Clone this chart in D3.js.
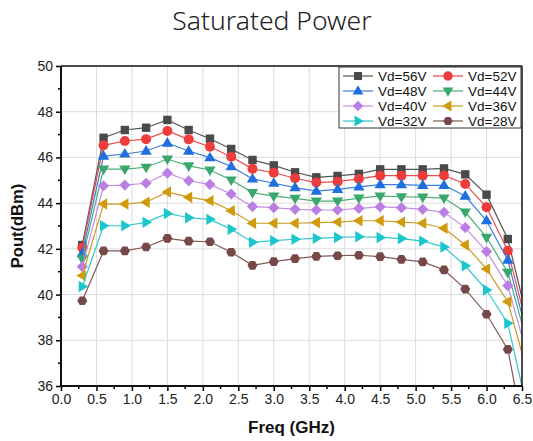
<!DOCTYPE html>
<html><head><meta charset="utf-8">
<script src="https://cdn.jsdelivr.net/npm/d3@7"></script>
<style>html,body{margin:0;padding:0;background:#fff;}svg{display:block;}</style>
</head><body>
<script>
const freqs = [0.3,0.6,0.9,1.2,1.5,1.8,2.1,2.4,2.7,3.0,3.3,3.6,3.9,4.2,4.5,4.8,5.1,5.4,5.7,6.0,6.3,6.6];
const seriesNames = ["Vd=56V","Vd=52V","Vd=48V","Vd=44V","Vd=40V","Vd=36V","Vd=32V","Vd=28V"];
const vd56 = [42.17,46.86,47.2,47.3,47.64,47.2,46.82,46.37,45.89,45.65,45.35,45.13,45.19,45.28,45.48,45.48,45.48,45.52,45.26,44.37,42.43,38.6];
const vd52 = [42.05,46.53,46.72,46.8,47.16,46.79,46.47,46.03,45.5,45.33,45.09,44.9,44.94,45.06,45.2,45.2,45.2,45.21,44.84,43.82,41.92,38.25];
const vd48 = [41.8,46.06,46.15,46.28,46.63,46.28,45.99,45.6,45.06,44.87,44.68,44.53,44.6,44.71,44.81,44.81,44.78,44.78,44.31,43.23,41.51,37.9];
const vd44 = [41.56,45.49,45.49,45.57,45.93,45.63,45.45,45.01,44.46,44.31,44.21,44.09,44.09,44.22,44.31,44.28,44.26,44.22,43.61,42.5,40.97,37.6];
const vd40 = [41.22,44.76,44.79,44.87,45.31,44.98,44.82,44.4,43.85,43.8,43.73,43.7,43.7,43.77,43.84,43.8,43.73,43.6,42.93,41.88,40.39,37.05];
const vd36 = [40.83,43.96,43.96,44.04,44.49,44.26,44.11,43.67,43.12,43.12,43.12,43.15,43.17,43.23,43.23,43.17,43.12,42.9,42.17,41.12,39.69,36.3];
const vd32 = [40.35,43.01,43.01,43.16,43.55,43.36,43.29,42.86,42.29,42.36,42.42,42.46,42.5,42.53,42.5,42.45,42.34,42.08,41.26,40.2,38.74,34.6];
const vd28 = [39.73,41.91,41.91,42.08,42.46,42.34,42.31,41.85,41.28,41.44,41.57,41.67,41.7,41.72,41.66,41.54,41.43,41.08,40.24,39.14,37.6,32.8];
const seriesValues = [vd56,vd52,vd48,vd44,vd40,vd36,vd32,vd28];
const xTicks = [0.0,0.5,1.0,1.5,2.0,2.5,3.0,3.5,4.0,4.5,5.0,5.5,6.0,6.5];
const yTicks = [36,38,40,42,44,46,48,50];
const colors = ["#4a4a4a","#ee3b3b","#1f6fde","#3aa86c","#bb7fe3","#cf9a0c","#1cc6cc","#774848"];
const lineColors = ["#555555","#ee4a4a","#3a7ee0","#4bad77","#c08ee6","#cc9a20","#30c8cc","#805858"];
const shapes = ["square","circle","triUp","triDown","diamond","triLeft","triRight","hexagon"];

const W = 533, H = 441;
const m = {left:61, right:522, top:66, bottom:386};
const svg = d3.select("body").append("svg").attr("width",W).attr("height",H);
const x = d3.scaleLinear().domain([0,6.5]).range([m.left,m.right]);
const y = d3.scaleLinear().domain([36,50]).range([m.bottom,m.top]);

function shapePath(s, r){
  r = r || 1;
  switch(s){
    case "square": { const a=4.2*r; return `M${-a},${-a}H${a}V${a}H${-a}Z`; }
    case "circle": { const a=5*r; return `M${a},0A${a},${a} 0 1,1 ${-a},0A${a},${a} 0 1,1 ${a},0Z`; }
    case "diamond": { const a=5.6*r; return `M0,${-a}L${a},0L0,${a}L${-a},0Z`; }
    case "hexagon": { const a=5*r; let p=""; for(let i=0;i<6;i++){const t=Math.PI/3*i; p+=(i?"L":"M")+(a*Math.cos(t)).toFixed(2)+","+(a*Math.sin(t)).toFixed(2);} return p+"Z"; }
    default: {
      const a=6*r;
      const pts=[[0,-a],[a*0.95,a*0.6],[-a*0.95,a*0.6]];
      const rot = {triUp:0,triDown:180,triLeft:-90,triRight:90}[s];
      const t=rot*Math.PI/180;
      return "M"+pts.map(p=>[(p[0]*Math.cos(t)-p[1]*Math.sin(t)).toFixed(2),(p[0]*Math.sin(t)+p[1]*Math.cos(t)).toFixed(2)].join(",")).join("L")+"Z";
    }
  }
}

// title
svg.append("text").attr("x",272).attr("y",30).attr("text-anchor","middle")
  .attr("font-family","'Noto Sans', 'DejaVu Sans', sans-serif").attr("font-weight",300)
  .attr("font-size",26.5).attr("fill","#222").text("Saturated Power");

// grid
const g = svg.append("g");
g.selectAll(".gx").data(xTicks.filter(d=>d>0&&d<6.5)).enter().append("line")
  .attr("x1",d=>x(d)).attr("x2",d=>x(d)).attr("y1",m.top).attr("y2",m.bottom)
  .attr("stroke","#dcdcdc").attr("stroke-width",1);
g.selectAll(".gy").data(yTicks.filter(d=>d>36&&d<50)).enter().append("line")
  .attr("x1",m.left).attr("x2",m.right).attr("y1",d=>y(d)).attr("y2",d=>y(d))
  .attr("stroke","#dcdcdc").attr("stroke-width",1);

// clip
svg.append("clipPath").attr("id","clip").append("rect")
  .attr("x",m.left).attr("y",m.top).attr("width",m.right-m.left).attr("height",m.bottom-m.top);

const plot = svg.append("g").attr("clip-path","url(#clip)");
const line = d3.line().x((d,i)=>x(freqs[i])).y(d=>y(d));
seriesValues.forEach((vals,si)=>{
  const sg = plot.append("g");
  sg.append("path").attr("d",line(vals)).attr("fill","none")
    .attr("stroke",lineColors[si]).attr("stroke-width",1.2);
  sg.selectAll("path.mk").data(vals.map((v,i)=>[freqs[i],v]).filter(d=>d[0]<=6.5)).enter()
    .append("path").attr("class","mk")
    .attr("transform",d=>`translate(${x(d[0])},${y(d[1])})`)
    .attr("d",shapePath(shapes[si])).attr("fill",colors[si]);
});

// axes
const fontAx = "'Liberation Sans', Arial, sans-serif";
const xAxis = d3.axisBottom(x).tickValues(xTicks).tickFormat(d3.format(".1f")).tickSize(5).tickPadding(3);
const gx = svg.append("g").attr("transform",`translate(0,${m.bottom})`).call(xAxis);
gx.select(".domain").remove();
gx.selectAll(".tick line").attr("stroke","#000").attr("stroke-width",1.5);
gx.selectAll("text").attr("font-family",fontAx).attr("font-size",14).attr("fill","#222");
const xMinor = d3.range(0.25,6.5,0.5);
svg.selectAll(".xmin").data(xMinor).enter().append("line")
  .attr("x1",d=>x(d)).attr("x2",d=>x(d)).attr("y1",m.bottom).attr("y2",m.bottom+3)
  .attr("stroke","#000").attr("stroke-width",1.5);

const yAxis = d3.axisLeft(y).tickValues(yTicks).tickSize(5).tickPadding(3);
const gy = svg.append("g").attr("transform",`translate(${m.left},0)`).call(yAxis);
gy.select(".domain").remove();
gy.selectAll(".tick line").attr("stroke","#000").attr("stroke-width",1.5);
gy.selectAll("text").attr("font-family",fontAx).attr("font-size",14).attr("fill","#222");
const yMinor = d3.range(37,50,2);
svg.selectAll(".ymin").data(yMinor).enter().append("line")
  .attr("x1",m.left-3).attr("x2",m.left).attr("y1",d=>y(d)).attr("y2",d=>y(d))
  .attr("stroke","#000").attr("stroke-width",1.5);

// frame
svg.append("line").attr("x1",m.left).attr("x2",m.right).attr("y1",m.top).attr("y2",m.top).attr("stroke","#111").attr("stroke-width",1.5);
svg.append("line").attr("x1",m.right).attr("x2",m.right).attr("y1",m.top).attr("y2",m.bottom).attr("stroke","#111").attr("stroke-width",1.5);
svg.append("line").attr("x1",m.left).attr("x2",m.left).attr("y1",m.top).attr("y2",m.bottom+1).attr("stroke","#111").attr("stroke-width",2);
svg.append("line").attr("x1",m.left-1).attr("x2",m.right).attr("y1",m.bottom).attr("y2",m.bottom).attr("stroke","#111").attr("stroke-width",2);

// axis titles
svg.append("text").attr("x",(m.left+m.right)/2).attr("y",433).attr("text-anchor","middle")
  .attr("font-family",fontAx).attr("font-weight","bold").attr("font-size",17).attr("fill","#111").text("Freq (GHz)");
svg.append("text").attr("transform",`translate(23,${(m.top+m.bottom)/2}) rotate(-90)`).attr("text-anchor","middle")
  .attr("font-family",fontAx).attr("font-weight","bold").attr("font-size",16.5).attr("fill","#111").text("Pout(dBm)");

// legend
const lg = svg.append("g");
lg.append("rect").attr("x",339).attr("y",m.top+1).attr("width",m.right-339-1).attr("height",61)
  .attr("fill","#fff").attr("stroke","#333").attr("stroke-width",1);
seriesNames.forEach((name,i)=>{
  const col = i%2, row = Math.floor(i/2);
  const lx = 343 + col*90, ly = 76 + row*15;
  lg.append("line").attr("x1",lx).attr("x2",lx+30).attr("y1",ly).attr("y2",ly)
    .attr("stroke",lineColors[i]).attr("stroke-width",1.2);
  lg.append("path").attr("transform",`translate(${lx+15},${ly})`).attr("d",shapePath(shapes[i],0.95)).attr("fill",colors[i]);
  lg.append("text").attr("x",lx+35).attr("y",ly+5).attr("font-family",fontAx).attr("font-size",13.5)
    .attr("fill","#111").text(name);
});
</script>
</body></html>
